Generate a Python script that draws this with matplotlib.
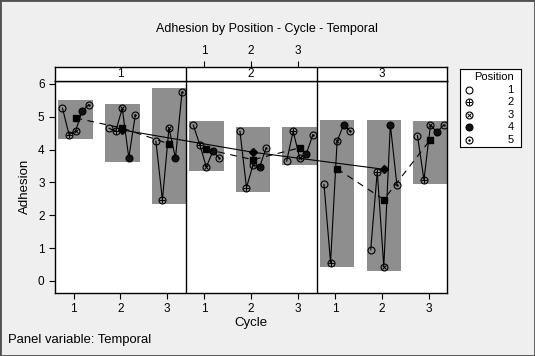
import numpy as np
import matplotlib
matplotlib.use("Agg")
import matplotlib.pyplot as plt
from matplotlib.patches import Rectangle

plt.rcParams['font.family'] = ['Liberation Sans Narrow', 'Liberation Sans', 'DejaVu Sans']

# Data: Adhesion by Position within Cycle within Temporal
temporals = ['1', '2', '3']
cycles = ['1', '2', '3']
positions = ['1', '2', '3', '4', '5']

temporal1 = [[5.26, 4.46, 4.56, 5.17, 5.37],
             [4.65, 4.56, 5.26, 3.75, 5.06],
             [4.26, 2.47, 4.65, 3.75, 5.75]]
temporal2 = [[4.75, 4.15, 3.47, 3.95, 3.74],
             [4.56, 2.84, 3.54, 3.47, 4.05],
             [3.65, 4.56, 3.74, 3.87, 4.45]]
temporal3 = [[2.94, 0.56, 4.25, 4.76, 4.56],
             [0.95, 3.33, 0.43, 4.76, 2.93],
             [4.43, 3.08, 4.75, 4.53, 4.75]]
data = [temporal1, temporal2, temporal3]

# layout
bg = '#efefef'
box_col = '#8e8e8e'
pw = 2.8            # width of a panel in x units
offs = np.array([-0.28, -0.14, 0.0, 0.14, 0.28])
shift = 0.04
half = 0.37
pad = 0.13
ms = 5.0

fig = plt.figure(figsize=(5.35, 3.56), dpi=100, facecolor=bg)
ax = fig.add_axes([0.1028, 0.1778, 0.7333, 0.5955])
axh = fig.add_axes([0.1028, 0.7733, 0.7333, 0.0393])


def draw_marker(ax, x, y, k, z=4):
    kw = dict(linestyle='none', zorder=z)
    if k == 3:
        ax.plot(x, y, 'o', ms=ms, mfc='#111111', mec='black', mew=0.8, **kw)
        return
    ax.plot(x, y, 'o', ms=ms, mfc='none', mec='black', mew=0.8, **kw)
    if k == 1:
        ax.plot(x, y, '+', ms=ms, mec='black', mew=0.7, **kw)
    elif k == 2:
        ax.plot(x, y, 'x', ms=ms * 0.68, mec='black', mew=0.7, **kw)
    elif k == 4:
        ax.plot(x, y, 'o', ms=1.4, mfc='black', mec='black', mew=0.3, **kw)


t_x, t_y = [], []
for p, tdata in enumerate(data):
    cx_list, cm_list = [], []
    for c, vals in enumerate(tdata):
        vals = np.array(vals)
        cx = p * pw + (c + 1) + shift
        xs = cx + offs
        lo, hi = vals.min() - pad, vals.max() + pad
        ax.add_patch(Rectangle((cx - half, lo), 2 * half, hi - lo,
                               facecolor=box_col, edgecolor='none', zorder=1))
        ax.plot(xs, vals, color='black', lw=0.8, zorder=3)
        for k in range(len(positions)):
            draw_marker(ax, xs[k], vals[k], k)
        cx_list.append(cx)
        cm_list.append(vals.mean())
    ax.plot(cx_list, cm_list, color='black', lw=0.8, dashes=(6, 5), zorder=5)
    ax.plot(cx_list, cm_list, 's', color='black', ms=4.5, zorder=7)
    t_x.append(cx_list[1])
    t_y.append(np.mean(cm_list))

ax.plot(t_x, t_y, color='black', lw=0.8, zorder=5)
ax.plot(t_x, t_y, 'D', color='black', ms=4.5, zorder=6)

xmin, xmax = 0.6, 0.6 + 3 * pw
ax.set_xlim(xmin, xmax)
ax.set_ylim(-0.36, 6.1)
for b in [0.6 + pw, 0.6 + 2 * pw]:
    ax.axvline(b, color='black', lw=1, zorder=8)
    axh.axvline(b, color='black', lw=1)

ticks = [p * pw + c + 1 for p in range(3) for c in range(3)]
ax.set_xticks(ticks)
ax.set_xticklabels(cycles * 3)
ax.set_yticks(range(0, 7))
ax.tick_params(axis='both', direction='out', length=4, width=0.8, labelsize=8.5, colors='black')
ax.set_facecolor('white')
for s in ax.spines.values():
    s.set_linewidth(1)
ax.set_xlabel('Cycle', fontsize=9.5, labelpad=1)
ax.set_ylabel('Adhesion', fontsize=9.5, labelpad=5)

# panel header strip
axh.set_xlim(xmin, xmax)
axh.set_ylim(0, 1)
axh.set_facecolor('white')
for s in axh.spines.values():
    s.set_linewidth(1)
axh.set_yticks([])
axh.xaxis.tick_top()
axh.set_xticks([pw + c + 1 for c in range(3)])
axh.set_xticklabels(cycles)
axh.tick_params(axis='x', direction='out', length=4, width=0.8, labelsize=8.5, pad=3)
for p, t in enumerate(temporals):
    axh.text(p * pw + 2, 0.5, t, ha='center', va='center', fontsize=8.5)

fig.text(0.4985, 0.918, 'Adhesion by Position - Cycle - Temporal', ha='center', va='center', fontsize=9.0)
fig.text(0.015, 0.045, 'Panel variable: Temporal', ha='left', va='center', fontsize=9.4)

# legend
axl = fig.add_axes([0.86, 0.5862, 0.1135, 0.2191])
axl.set_xlim(0, 1)
axl.set_ylim(0, 1)
axl.set_xticks([])
axl.set_yticks([])
axl.set_facecolor('white')
for s in axl.spines.values():
    s.set_linewidth(0.8)
axl.text(0.88, 0.905, 'Position', ha='right', va='center', fontsize=8)
row_y = [0.74, 0.58, 0.42, 0.26, 0.10]
for k, lab in enumerate(positions):
    draw_marker(axl, 0.15, row_y[k], k)
    axl.text(0.88, row_y[k], lab, ha='right', va='center', fontsize=8)

fig.patches.append(Rectangle((0, 0), 1, 1, transform=fig.transFigure, fill=False,
                             edgecolor='#505050', lw=2))

fig.savefig('out.png', dpi=100, facecolor=bg)
